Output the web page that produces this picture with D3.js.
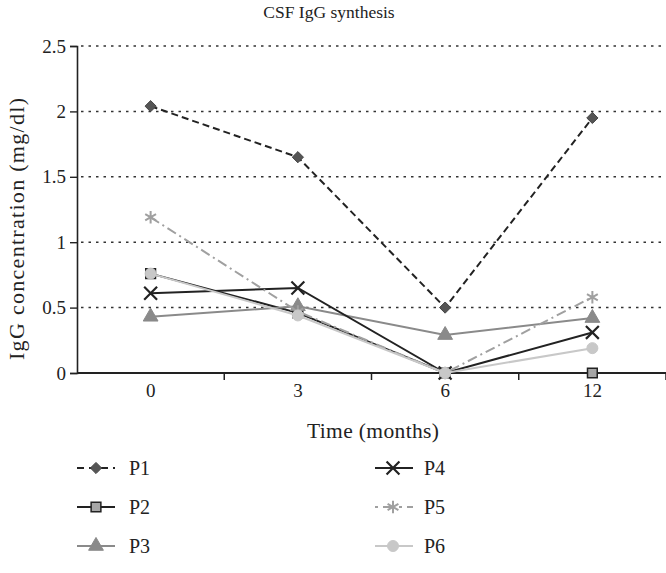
<!DOCTYPE html>
<html>
<head>
<meta charset="utf-8">
<script src="https://cdn.jsdelivr.net/npm/d3@7"></script>
<style>
  body { margin: 0; background: #fff; }
  text { font-family: "Liberation Serif", "Times New Roman", serif; fill: #222; }
</style>
</head>
<body>
<svg id="chart" width="666" height="573"></svg>
<script>
const months = ["0", "3", "6", "12"];
const seriesNames = ["P1", "P2", "P3", "P4", "P5", "P6"];
const p1 = [2.04, 1.65, 0.50, 1.95];
const p2 = [0.76, 0.46, 0.00, 0.00];
const p3 = [0.43, 0.51, 0.29, 0.42];
const p4 = [0.61, 0.65, 0.00, 0.31];
const p5 = [1.19, 0.47, 0.00, 0.58];
const p6 = [0.76, 0.44, 0.00, 0.19];
const yTicks = [0, 0.5, 1, 1.5, 2, 2.5];

const seriesValues = [p1, p2, p3, p4, p5, p6];
const styles = [
  { stroke: "#222", dash: "7,4", sym: d3.symbolDiamond2, size: 80, fill: "#555", mstroke: "#444", sw: 1 },
  { stroke: "#222", dash: null, sym: d3.symbolSquare, size: 95, fill: "#a6a6a6", mstroke: "#222", sw: 1.5 },
  { stroke: "#8a8a8a", dash: null, sym: d3.symbolTriangle, size: 95, fill: "#8a8a8a", mstroke: "#8a8a8a", sw: 1 },
  { stroke: "#222", dash: null, sym: d3.symbolX, size: 110, fill: "none", mstroke: "#222", sw: 2.2 },
  { stroke: "#a0a0a0", dash: "10,4,2,4", sym: d3.symbolAsterisk, size: 110, fill: "none", mstroke: "#a0a0a0", sw: 2 },
  { stroke: "#c8c8c8", dash: null, sym: d3.symbolCircle, size: 95, fill: "#c8c8c8", mstroke: "#c8c8c8", sw: 1 }
];

const svg = d3.select("#chart");
const mLeft = 77, mRight = 666, mTop = 46, mBottom = 373;
const serif = "'Liberation Serif', 'Times New Roman', serif";

const x = d3.scaleBand().domain(months).range([mLeft, mRight]).padding(0);
const y = d3.scaleLinear().domain([0, 2.5]).range([mBottom, mTop]);

// title
svg.append("text").attr("x", 329).attr("y", 18).attr("text-anchor", "middle")
  .style("font-size", "17.5px").text("CSF IgG synthesis");

// gridlines
svg.append("g").selectAll("line").data(yTicks.filter(d => d > 0)).join("line")
  .attr("x1", mLeft + 4).attr("x2", mRight).attr("y1", d => y(d)).attr("y2", d => y(d))
  .attr("stroke", "#333").attr("stroke-width", 1.5).attr("stroke-dasharray", "2.5,5");

// y axis
const yAxis = svg.append("g").attr("transform", `translate(${mLeft},0)`)
  .call(d3.axisLeft(y).tickValues(yTicks).tickSize(7).tickPadding(4).tickFormat(d => String(d)));
yAxis.attr("font-family", null);
yAxis.select(".domain").attr("stroke", "#222").attr("stroke-width", 1.6);
yAxis.selectAll(".tick line").attr("stroke", "#222").attr("stroke-width", 1.4);
yAxis.selectAll("text").style("font-size", "19px").style("font-family", serif).attr("fill", "#222");

// x axis
const xAxis = svg.append("g").attr("transform", `translate(0,${mBottom})`)
  .call(d3.axisBottom(x).tickSize(0).tickPadding(11));
xAxis.attr("font-family", null);
xAxis.select(".domain").attr("stroke", "#222").attr("stroke-width", 2).attr("d", `M${mLeft},0H${mRight}`);
xAxis.selectAll("text").style("font-size", "19px").style("font-family", serif).attr("fill", "#222");
const bounds = months.map(m => x(m)).concat([x(months[months.length - 1]) + x.bandwidth()]).slice(1);
xAxis.selectAll("line.bnd").data(bounds).join("line").attr("class", "bnd")
  .attr("x1", d => d).attr("x2", d => d).attr("y1", 0).attr("y2", 7)
  .attr("stroke", "#222").attr("stroke-width", 1.5);

// axis labels
svg.append("text").attr("x", 373).attr("y", 438).attr("text-anchor", "middle")
  .attr("textLength", 132).attr("lengthAdjust", "spacing")
  .style("font-size", "21.5px").text("Time (months)");
svg.append("text").attr("transform", "translate(24,229) rotate(-90)").attr("text-anchor", "middle")
  .attr("textLength", 262).attr("lengthAdjust", "spacing")
  .style("font-size", "22px").text("IgG concentration (mg/dl)");

// lines
const line = d3.line().x((d, i) => x(months[i]) + x.bandwidth() / 2).y(d => y(d));
const g = svg.append("g");
seriesValues.forEach((vals, si) => {
  const st = styles[si];
  g.append("path").datum(vals).attr("d", line).attr("fill", "none")
    .attr("stroke", st.stroke).attr("stroke-width", 2)
    .attr("stroke-dasharray", st.dash);
  g.selectAll(null).data(vals).join("path")
    .attr("transform", (d, i) => `translate(${x(months[i]) + x.bandwidth() / 2},${y(d)})`)
    .attr("d", d3.symbol().type(st.sym).size(st.size))
    .attr("fill", st.fill).attr("stroke", st.mstroke).attr("stroke-width", st.sw);
});

// legend
const legPos = [
  { lx: 77, mx: 96, tx: 129, ty: 468 },
  { lx: 77, mx: 96, tx: 129, ty: 507 },
  { lx: 77, mx: 96, tx: 129, ty: 546 },
  { lx: 375, mx: 393, tx: 424, ty: 468 },
  { lx: 375, mx: 393, tx: 424, ty: 507 },
  { lx: 375, mx: 393, tx: 424, ty: 546 }
];
seriesNames.forEach((name, si) => {
  const st = styles[si], p = legPos[si];
  const lg = svg.append("g");
  lg.append("line").attr("x1", p.lx).attr("x2", p.lx + 38).attr("y1", p.ty).attr("y2", p.ty)
    .attr("stroke", st.stroke).attr("stroke-width", 2)
    .attr("stroke-dasharray", si === 0 ? "7,5" : (si === 4 ? "3,5,12,4" : null));
  lg.append("path").attr("transform", `translate(${p.mx},${p.ty})`)
    .attr("d", d3.symbol().type(st.sym).size(st.size))
    .attr("fill", st.fill).attr("stroke", st.mstroke).attr("stroke-width", st.sw);
  lg.append("text").attr("x", p.tx).attr("y", p.ty).attr("dy", "0.35em")
    .style("font-size", "20px").text(name);
});
</script>
</body>
</html>
